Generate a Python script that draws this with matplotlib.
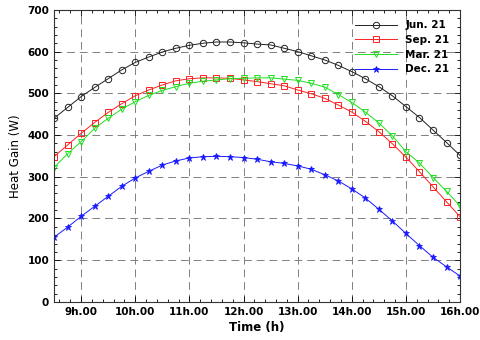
import numpy as np
import matplotlib
matplotlib.use("Agg")
import matplotlib.pyplot as plt
from matplotlib.ticker import MultipleLocator

# time in hours, every 15 min from 8h30 to 16h00
hours = np.arange(8.5, 16.01, 0.25)

jun = [440, 466, 492, 514, 535, 556, 574, 587, 599, 608, 615, 620, 623, 623, 621, 618,
       616, 608, 600, 590, 580, 567, 552, 535, 516, 494, 468, 442, 412, 382, 351]
sep = [348, 376, 404, 430, 454, 475, 494, 508, 520, 530, 535, 537, 537, 536, 532, 528,
       523, 518, 508, 499, 488, 472, 455, 433, 408, 379, 347, 312, 276, 240, 204]
mar = [322, 355, 384, 416, 440, 462, 480, 495, 507, 516, 524, 529, 532, 535, 536, 537,
       537, 534, 531, 524, 515, 497, 478, 455, 429, 398, 360, 333, 298, 265, 230]
dec = [155, 179, 205, 229, 253, 277, 297, 313, 328, 338, 345, 348, 349, 348, 346, 342,
       336, 332, 326, 318, 305, 290, 271, 249, 222, 194, 164, 135, 107, 84, 62]

tick_hours = [9, 10, 11, 12, 13, 14, 15, 16]
tick_labels = ["9h.00", "10h.00", "11h.00", "12h.00", "13h.00", "14h.00", "15h.00", "16h.00"]

fig = plt.figure(figsize=(4.8, 3.4), dpi=100)
ax = fig.add_axes([0.1125, 0.112, 0.846, 0.859])

ax.plot(hours, jun, color="#222222", lw=0.7, marker="o", ms=4.6, mfc="none", mew=0.7, label="Jun. 21")
ax.plot(hours, sep, color="#ff2020", lw=0.7, marker="s", ms=4.0, mfc="none", mew=0.7, label="Sep. 21")
ax.plot(hours, mar, color="#20e020", lw=0.7, marker="v", ms=5.0, mfc="none", mew=0.7, label="Mar. 21")
ax.plot(hours, dec, color="#1a1aff", lw=0.7, marker="*", ms=5.0, mew=0.6, label="Dec. 21")

ax.set_xlim(8.5, 16.0)
ax.set_ylim(0, 700)
ax.set_xticks(tick_hours)
ax.set_xticklabels(tick_labels)
ax.yaxis.set_major_locator(MultipleLocator(100))
ax.yaxis.set_minor_locator(MultipleLocator(20))
ax.xaxis.set_minor_locator(MultipleLocator(0.2))
ax.tick_params(which="both", direction="in", top=True, right=True, labelsize=7.5, width=0.6)
ax.tick_params(which="major", length=4)
ax.tick_params(which="minor", length=2)
for lab in ax.get_xticklabels() + ax.get_yticklabels():
    lab.set_fontweight("bold")
for sp in ax.spines.values():
    sp.set_linewidth(0.8)
    sp.set_color("#333333")

ax.grid(True, which="major", ls=(0, (8, 5)), color="#808080", lw=0.7)

ax.set_xlabel("Time (h)", fontsize=8.5, fontweight="bold", labelpad=3)
ax.set_ylabel("Heat Gain (W)", fontsize=8.5, labelpad=4)

leg = ax.legend(loc="upper right", frameon=False, fontsize=7.5, handlelength=4,
                borderaxespad=0.6, labelspacing=0.45)
for t in leg.get_texts():
    t.set_fontweight("bold")

fig.savefig("out.png", dpi=100)
